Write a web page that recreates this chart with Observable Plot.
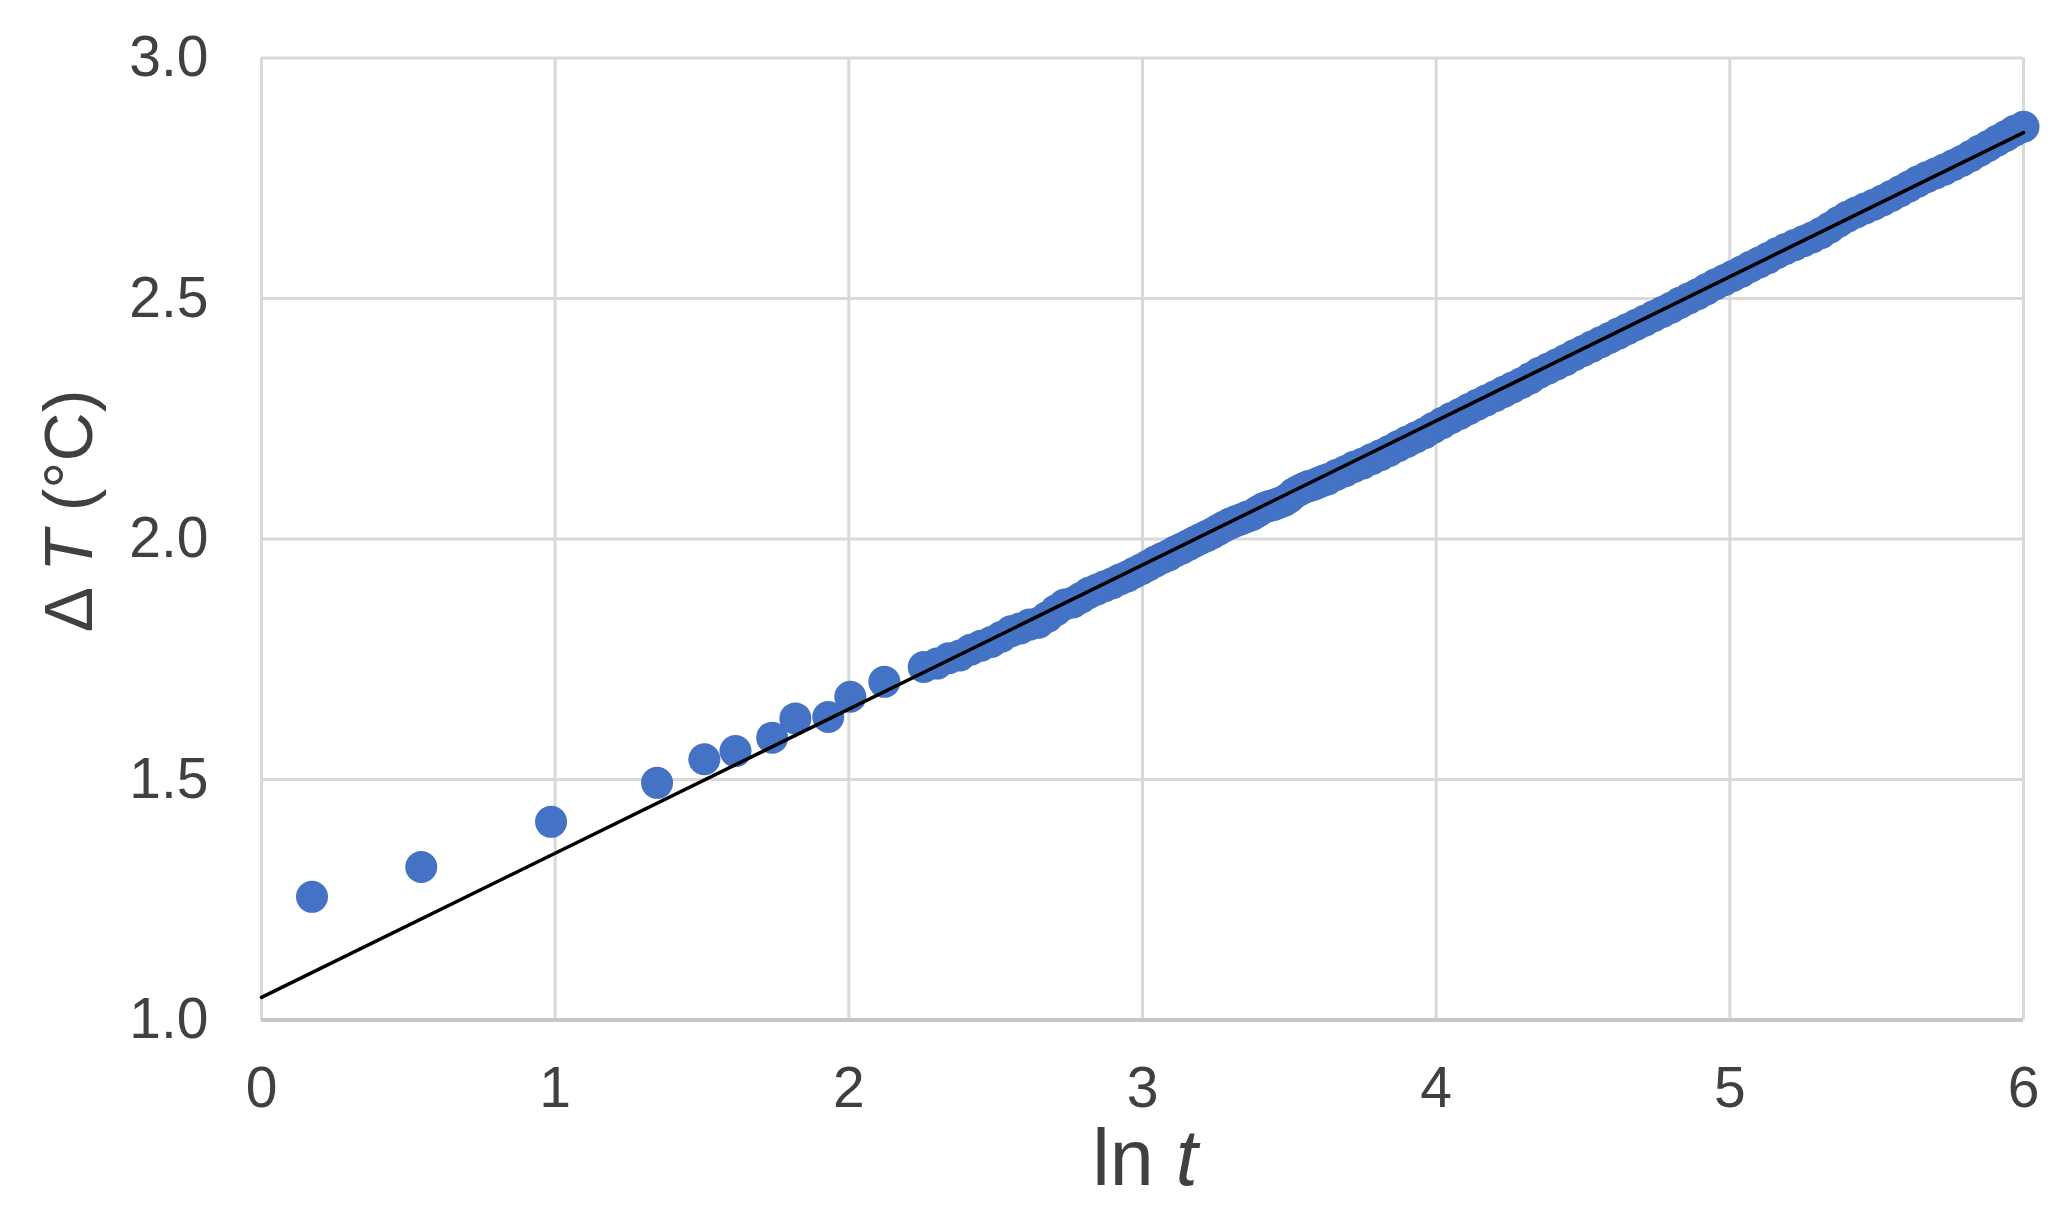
<!DOCTYPE html>
<html>
<head>
<meta charset="utf-8">
<script src="https://cdn.jsdelivr.net/npm/d3@7"></script>
<script src="https://cdn.jsdelivr.net/npm/@observablehq/plot@0.6"></script>
<style>
  html, body { margin: 0; padding: 0; background: #ffffff; }
  #chart svg { display: block; }
</style>
</head>
<body>
<div id="chart"></div>
<script>
// ---- data ----
const lnT = [
  0.172, 0.544, 0.986, 1.347, 1.508, 1.614, 1.739, 1.818, 1.930, 2.005, 2.121,
  2.255, 2.300, 2.340, 2.378, 2.415, 2.450, 2.485, 2.520, 2.552, 2.584, 2.615, 2.646, 2.676, 2.706,
  2.735, 2.763, 2.791, 2.818, 2.845, 2.871, 2.897, 2.923, 2.948, 2.972, 2.996, 3.020, 3.043, 3.066,
  3.089, 3.111, 3.133, 3.155, 3.176, 3.197, 3.218, 3.238, 3.258, 3.278, 3.298, 3.317, 3.336, 3.355,
  3.374, 3.392, 3.411, 3.429, 3.447, 3.464, 3.482, 3.499, 3.516, 3.533, 3.550, 3.566, 3.583, 3.599,
  3.615, 3.63, 3.66, 3.69, 3.72, 3.75, 3.78, 3.81, 3.84, 3.87, 3.90, 3.93, 3.96, 3.99, 4.02, 4.05,
  4.08, 4.11, 4.14, 4.17, 4.20, 4.23, 4.26, 4.29, 4.32, 4.35, 4.38, 4.41, 4.44, 4.47, 4.50, 4.53,
  4.56, 4.59, 4.62, 4.65, 4.68, 4.71, 4.74, 4.77, 4.80, 4.83, 4.86, 4.89, 4.92, 4.95, 4.98, 5.01,
  5.04, 5.07, 5.10, 5.13, 5.16, 5.19, 5.22, 5.25, 5.28, 5.31, 5.34, 5.37, 5.40, 5.43, 5.46, 5.49,
  5.52, 5.55, 5.58, 5.61, 5.64, 5.67, 5.70, 5.73, 5.76, 5.79, 5.82, 5.85, 5.88, 5.91, 5.94, 5.97, 6.00
];
const deltaT = [
  1.256, 1.318, 1.412, 1.493, 1.542, 1.559, 1.587, 1.627, 1.630, 1.672, 1.703,
  1.734, 1.741, 1.752, 1.758, 1.770, 1.778, 1.786, 1.797, 1.808, 1.814, 1.822, 1.826, 1.838, 1.852,
  1.864, 1.868, 1.878, 1.888, 1.895, 1.902, 1.908, 1.916, 1.922, 1.930, 1.937, 1.945, 1.953, 1.960,
  1.966, 1.974, 1.980, 1.987, 1.994, 2.000, 2.006, 2.012, 2.019, 2.026, 2.032, 2.037, 2.041, 2.046,
  2.050, 2.057, 2.064, 2.068, 2.071, 2.075, 2.079, 2.086, 2.095, 2.101, 2.106, 2.110, 2.113, 2.117,
  2.121, 2.124, 2.133, 2.141, 2.150, 2.157, 2.166, 2.174, 2.183, 2.193, 2.202, 2.211, 2.220, 2.231, 2.241, 2.251,
  2.260, 2.270, 2.279, 2.288, 2.297, 2.306, 2.315, 2.324, 2.334, 2.345, 2.354, 2.363, 2.372, 2.382, 2.391, 2.400,
  2.409, 2.418, 2.427, 2.436, 2.445, 2.454, 2.463, 2.472, 2.481, 2.491, 2.500, 2.509, 2.519, 2.529, 2.538, 2.547,
  2.556, 2.566, 2.575, 2.584, 2.594, 2.603, 2.611, 2.619, 2.627, 2.636, 2.647, 2.659, 2.670, 2.679, 2.687, 2.695,
  2.704, 2.713, 2.723, 2.733, 2.743, 2.752, 2.760, 2.768, 2.777, 2.786, 2.796, 2.807, 2.817, 2.828, 2.838, 2.849, 2.857
];
// linear trend line (end points)
const fitX = [0, 6];
const fitY = [1.047, 2.845];

const xTicks = [0, 1, 2, 3, 4, 5, 6];
const xTickLabels = ["0", "1", "2", "3", "4", "5", "6"];
const yTicks = [1.0, 1.5, 2.0, 2.5, 3.0];
const yTickLabels = ["1.0", "1.5", "2.0", "2.5", "3.0"];

// ---- tables for the library ----
const points = lnT.map((x, i) => ({x, y: deltaT[i]}));
const fit = fitX.map((x, i) => ({x, y: fitY[i]}));

const FONT = "Liberation Sans, Arial, sans-serif";
const TEXT = "#404040";

const chart = Plot.plot({
  width: 2070,
  height: 1211,
  marginLeft: 261,
  marginRight: 47,
  marginTop: 57.5,
  marginBottom: 191.5,
  style: {background: "#ffffff", fontFamily: FONT, maxWidth: "none"},
  x: {domain: [0, 6]},
  y: {domain: [1, 3]},
  marks: [
    Plot.ruleY(yTicks.slice(1), {stroke: "#d9d9d9", strokeWidth: 3}),
    Plot.ruleX(xTicks, {stroke: "#d9d9d9", strokeWidth: 3}),
    Plot.ruleY([yTicks[0]], {stroke: "#c6c6c6", strokeWidth: 4}),
    Plot.dot(points, {x: "x", y: "y", r: 16, fill: "#4472c4", stroke: "none"}),
    Plot.line(fit, {x: "x", y: "y", stroke: "#000000", strokeWidth: 3.5}),
    Plot.axisX({
      ticks: xTicks, tickSize: 0, tickPadding: 47, fontSize: 57, fill: TEXT,
      fontFamily: FONT, tickFormat: (d) => xTickLabels[xTicks.indexOf(d)], label: null
    }),
    Plot.axisY({
      ticks: yTicks, tickSize: 0, tickPadding: 53, fontSize: 57, fill: TEXT,
      fontFamily: FONT, tickFormat: (d) => yTickLabels[yTicks.indexOf(d)], label: null
    })
  ]
});

// axis titles with mixed italic
const svg = d3.select(chart);
const xt = svg.append("text")
  .attr("x", 1145).attr("y", 1185)
  .attr("text-anchor", "middle")
  .attr("font-family", FONT).attr("font-size", 79).attr("fill", TEXT);
xt.append("tspan").text("ln ");
xt.append("tspan").attr("font-style", "italic").text("t");

const yt = svg.append("text")
  .attr("transform", "translate(92,511) rotate(-90)")
  .attr("text-anchor", "middle")
  .attr("font-family", FONT).attr("font-size", 68).attr("fill", TEXT);
yt.append("tspan").text("Δ ");
yt.append("tspan").attr("font-style", "italic").text("T");
yt.append("tspan").text(" (°C)");

document.getElementById("chart").appendChild(chart);
</script>
</body>
</html>
